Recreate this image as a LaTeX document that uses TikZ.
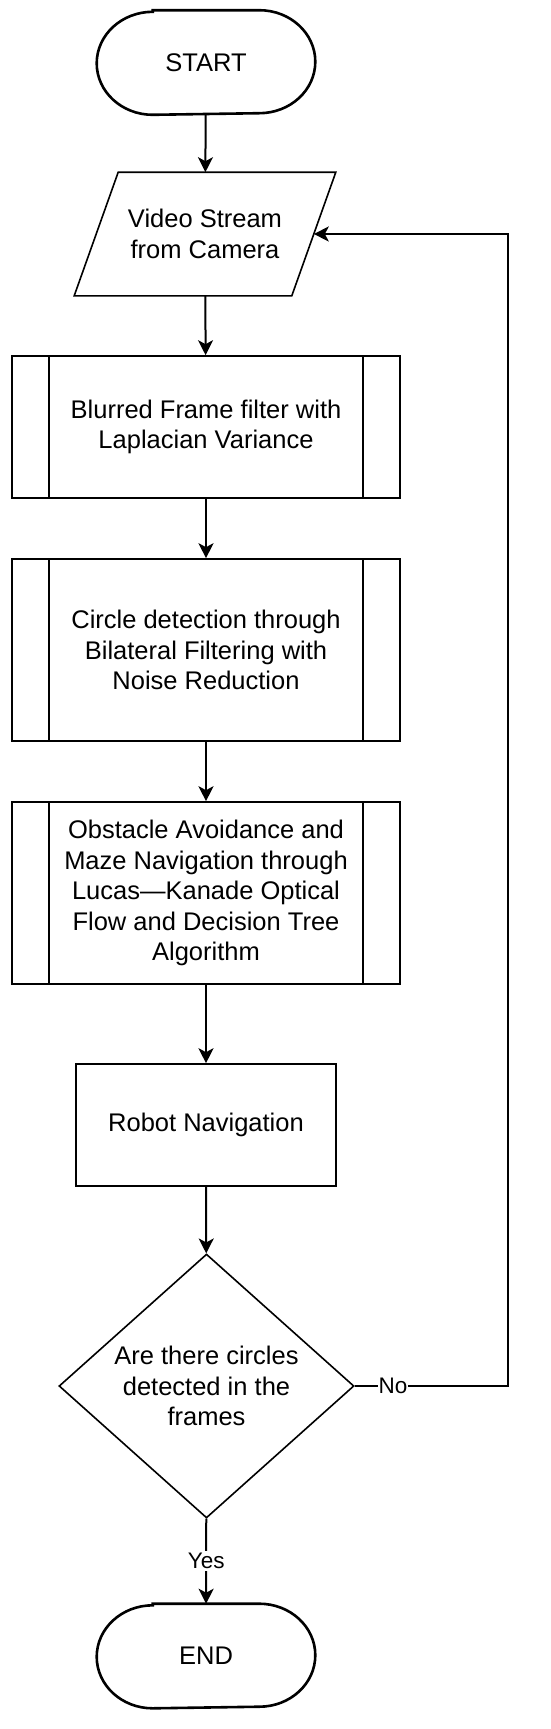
\documentclass[tikz,border=0pt]{standalone}
\usepackage{fontspec}
\setmainfont{Liberation Sans}
\usetikzlibrary{shapes.geometric, arrows.meta}
\begin{document}
\begin{tikzpicture}[x=1pt,y=1pt,
  base/.style={draw=black, line width=1.6pt, align=center, font=\fontsize{25.5}{30.5}\selectfont, text=black, inner sep=0pt},
  term/.style={base, draw=none, rectangle, minimum width=217pt, minimum height=103pt},
  termline/.style={line width=2.6pt},
  io/.style={base, draw=none, rectangle, minimum width=216pt, minimum height=122pt},
  ioline/.style={line width=1.6pt},
  proc/.style={base, rectangle, minimum width=260pt, minimum height=122pt},
  subproc/.style={base, rectangle, minimum width=388pt},
  dec/.style={base, diamond, minimum width=295pt, minimum height=238pt},
  inner/.style={line width=1.6pt},
  arr/.style={line width=2pt, -{Stealth[length=15pt,width=15pt,inset=4pt]}},
  lbl/.style={fill=white, inner sep=2pt, text=black, font=\fontsize{22.5}{26}\selectfont}
]
\useasboundingbox (0,0) rectangle (550,-1729);
\node[term] (start) at (206,-62.5) {START};
\node[io] (video) at (205,-234) {Video Stream\\from Camera};
\node[subproc, minimum height=142pt] (blur) at (206,-427) {Blurred Frame filter with\\Laplacian Variance};
\node[subproc, minimum height=182pt] (circ) at (206,-650) {Circle detection through\\Bilateral Filtering with\\Noise Reduction};
\node[subproc, minimum height=182pt] (obst) at (206,-893) {Obstacle Avoidance and\\Maze Navigation through\\Lucas—Kanade Optical\\Flow and Decision Tree\\Algorithm};
\node[proc] (robot) at (206,-1125) {Robot Navigation};
\node[dec] (dec) at (206.5,-1386) {Are there circles\\detected in the\\frames};
\node[term] (end) at (206,-1656) {END};
\foreach \n in {start,end}{
  \draw[termline] ([xshift=56pt]\n.north west) -- ([xshift=-56pt]\n.north east)
    arc[start angle=90, end angle=-90, x radius=56pt, y radius=51.5pt]
    -- ([xshift=56pt]\n.south west)
    arc[start angle=270, end angle=90, x radius=56pt, y radius=51.5pt] -- cycle;
}
\draw[ioline] ([xshift=22pt]video.north west) -- ([xshift=22pt]video.north east)
  -- ([xshift=-22pt]video.south east) -- ([xshift=-22pt]video.south west) -- cycle;
\foreach \n in {blur,circ,obst}{
  \draw[inner] ([xshift=38pt]\n.north west) -- ([xshift=38pt]\n.south west);
  \draw[inner] ([xshift=-38pt]\n.north east) -- ([xshift=-38pt]\n.south east);
}
\coordinate (loopc) at (508,-1386);
\draw[arr] (start) -- (video);
\draw[arr] (video) -- (blur);
\draw[arr] (blur) -- (circ);
\draw[arr] (circ) -- (obst);
\draw[arr] (obst) -- (robot);
\draw[arr] (robot) -- (dec);
\draw[arr] (dec) -- node[lbl, pos=0.5]{Yes} (end);
\draw[arr] (dec.east) -- node[lbl, pos=0.25, inner sep=1pt]{No} (loopc) |- (video.east);
\end{tikzpicture}
\end{document}
